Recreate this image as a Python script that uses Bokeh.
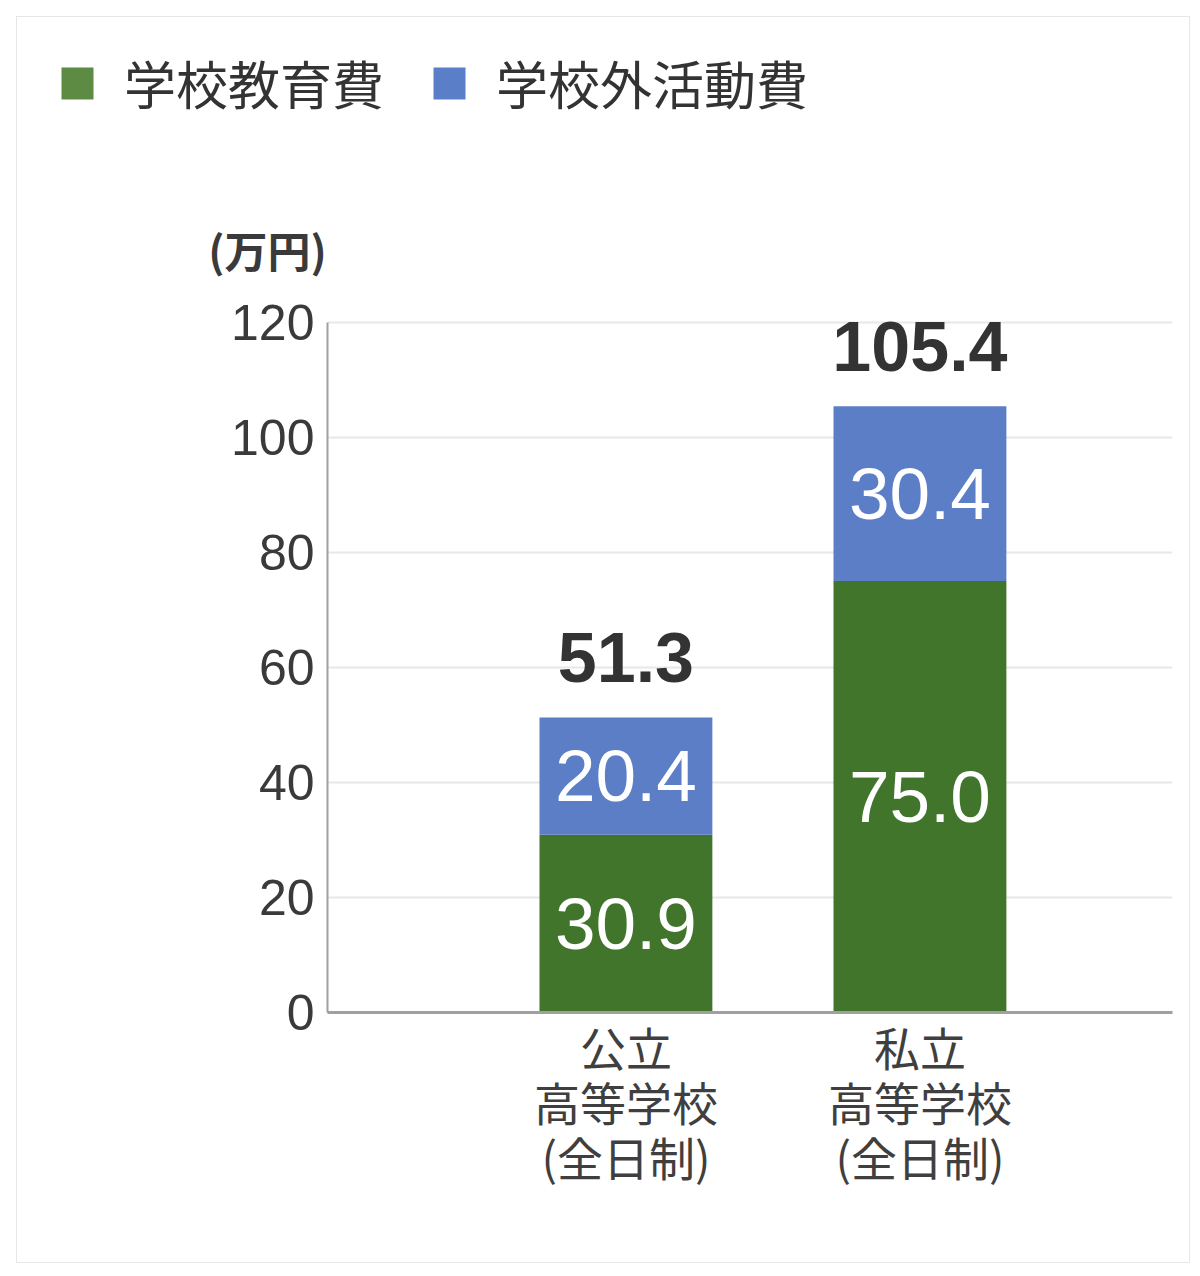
from bokeh.plotting import figure
from bokeh.layouts import column
from bokeh.models import (ColumnDataSource, FixedTicker, Range1d, LabelSet,
                          Legend, LegendItem, Label)
from bokeh.core.properties import value
from bokeh.embed import file_html
from bokeh.resources import INLINE

# ---- data ----
categories = ["公立\n高等学校\n(全日制)", "私立\n高等学校\n(全日制)"]
school_costs = [30.9, 75.0]        # 学校教育費
outside_costs = [20.4, 30.4]       # 学校外活動費
totals = [51.3, 105.4]
series_names = ["学校教育費", "学校外活動費"]
y_ticks = [0, 20, 40, 60, 80, 100, 120]
unit_label = "(万円)"

GREEN = "#42752C"
BLUE = "#5C7EC6"
GREEN_KEY = "#5E8B44"
BLUE_KEY = "#5B7EC8"
JP = "Noto Sans CJK JP"
NUM = "Liberation Sans"
W = 1172

xs = list(range(len(categories)))
src = ColumnDataSource(dict(
    x=xs,
    school=school_costs,
    outside=outside_costs,
    total=totals,
    school_mid=[s / 2 for s in school_costs],
    outside_mid=[s + o / 2 for s, o in zip(school_costs, outside_costs)],
    school_txt=[f"{v:.1f}" for v in school_costs],
    outside_txt=[f"{v:.1f}" for v in outside_costs],
    total_txt=[f"{v:.1f}" for v in totals],
))

# ---------- header strip: legend + unit ----------
head = figure(width=W, height=264, output_backend="svg", toolbar_location=None,
              x_axis_type=None, y_axis_type=None,
              x_range=Range1d(-1.015, 1.859), y_range=Range1d(0, 120),
              min_border=0)
head.frame_align = False
head.outline_line_color = None
head.background_fill_color = "white"
head.border_fill_color = "white"
head_r = head.vbar_stack(["school", "outside"], x="x", width=0.588, source=src,
                         color=[GREEN_KEY, BLUE_KEY], line_color=None)
for r in head_r:
    r.visible = False

legend = Legend(
    items=[LegendItem(label=n, renderers=[r]) for n, r in zip(series_names, head_r)],
    orientation="horizontal", location=(40, 161),
    glyph_width=40, glyph_height=40, label_standoff=27, spacing=45,
    padding=0, margin=0, border_line_color=None, background_fill_alpha=0,
    inactive_fill_alpha=0,
    label_text_font=JP, label_text_font_size="52px", label_text_color="#333333",
)
head.add_layout(legend)
head.add_layout(Label(x=250, y=33, x_units="screen", y_units="screen",
                      text=unit_label, text_align="center", text_baseline="middle",
                      text_font=JP, text_font_size="43px", text_font_style="bold",
                      text_color="#3a3a3a"))

# ---------- main chart ----------
p = figure(
    width=W, height=981,
    output_backend="svg", toolbar_location=None,
    x_range=Range1d(-1.015, 1.859), y_range=Range1d(0, 125),
    min_border_left=310, min_border_right=17,
    min_border_top=12, min_border_bottom=250,
)
p.frame_align = False
p.outline_line_color = None
p.background_fill_color = "white"
p.border_fill_color = "white"

p.vbar_stack(["school", "outside"], x="x", width=0.588, source=src,
             color=[GREEN, BLUE], line_color=None)

p.yaxis.ticker = FixedTicker(ticks=y_ticks)
p.yaxis.bounds = (0, 120)
p.yaxis.major_label_text_font = NUM
p.yaxis.major_label_text_font_size = "50px"
p.yaxis.major_label_text_color = "#3a3a3a"
p.yaxis.major_label_standoff = 7
p.yaxis.major_tick_line_color = None
p.yaxis.minor_tick_line_color = None
p.yaxis.axis_line_color = "#a0a0a0"
p.yaxis.axis_line_width = 2

p.xaxis.ticker = FixedTicker(ticks=xs)
p.xaxis.major_label_overrides = {i: c for i, c in zip(xs, categories)}
p.xaxis.major_label_text_font = JP
p.xaxis.major_label_text_font_size = "46px"
p.xaxis.major_label_text_color = "#3f3f3f"
p.xaxis.major_label_text_line_height = 0.84
p.xaxis.major_label_standoff = -6
p.xaxis.major_tick_line_color = None
p.xaxis.minor_tick_line_color = None
p.xaxis.axis_line_color = "#a0a0a0"
p.xaxis.axis_line_width = 3

p.xgrid.grid_line_color = None
p.ygrid.grid_line_color = "#e8e8e8"
p.ygrid.grid_line_width = 2

p.add_layout(LabelSet(x="x", y="school_mid", text="school_txt", source=src,
                      text_align="center", text_baseline="middle",
                      text_font=value(NUM), text_font_size="73px", text_color="white"))
p.add_layout(LabelSet(x="x", y="outside_mid", text="outside_txt", source=src,
                      text_align="center", text_baseline="middle",
                      text_font=value(NUM), text_font_size="73px", text_color="white"))
p.add_layout(LabelSet(x="x", y="total", text="total_txt", source=src,
                      y_offset=35, text_align="center", text_baseline="alphabetic",
                      text_font=value(NUM), text_font_size="70px", text_font_style="bold",
                      text_color="#333333"))

layout = column(head, p, spacing=0,
                styles={"border": "1px solid #e6e6e6",
                        "margin-left": "16px", "margin-top": "16px"})

open("out.html", "w").write(file_html(layout, INLINE))
